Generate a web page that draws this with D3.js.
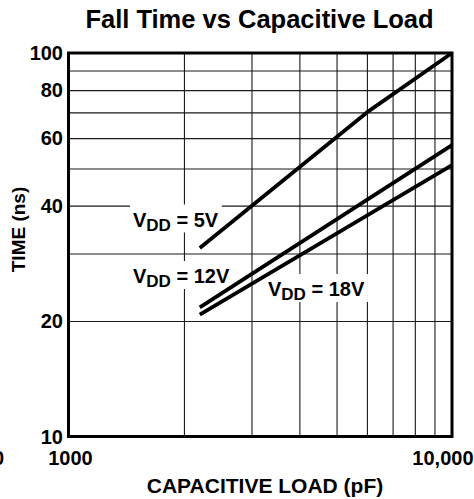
<!DOCTYPE html>
<html>
<head>
<meta charset="utf-8">
<script src="https://cdn.jsdelivr.net/npm/d3@7/dist/d3.min.js"></script>
<style>
  html, body { margin: 0; padding: 0; background: #fff; }
  svg { display: block; }
  text { font-family: "Liberation Sans", Arial, Helvetica, sans-serif; font-weight: bold; fill: #000; }
</style>
</head>
<body>
<svg id="chart" width="474" height="499"></svg>
<script>
// ---- data ----
const xDomain = [1000, 10000];
const yDomain = [10, 100];
const xGrid = [2000, 3000, 4000, 5000, 6000, 7000, 8000, 9000];
const yGrid = [20, 30, 40, 50, 60, 70, 80, 90];
const yTickValues = [10, 20, 40, 60, 80, 100];
const yTickLabels = ["10", "20", "40", "60", "80", "100"];
const xTickValues = [1000, 10000];
const xTickLabels = ["1000", "10,000"];

const load5V = [2200, 6000, 10000];
const time5V = [31, 70, 100];
const load12V = [2200, 10000];
const time12V = [21.7, 57.5];
const load18V = [2200, 10000];
const time18V = [20.8, 51];

const seriesNames = ["5V", "12V", "18V"];

// ---- layout ----
const svg = d3.select("#chart");
const L = 68.5, R = 452, T = 53, B = 436.5;

const x = d3.scaleLog().domain(xDomain).range([L, R]);
const y = d3.scaleLog().domain(yDomain).range([B, T]);

// gridlines
svg.append("g")
  .attr("transform", `translate(0,${B})`)
  .call(d3.axisBottom(x).tickValues(xGrid).tickSize(-(B - T)).tickFormat(""))
  .call(g => g.select(".domain").remove())
  .call(g => g.selectAll("line").attr("stroke", "#1a1a1a").attr("stroke-width", 1.1));

svg.append("g")
  .attr("transform", `translate(${L},0)`)
  .call(d3.axisLeft(y).tickValues(yGrid).tickSize(-(R - L)).tickFormat(""))
  .call(g => g.select(".domain").remove())
  .call(g => g.selectAll("line").attr("stroke", "#1a1a1a").attr("stroke-width", 1.1));

// frame
svg.append("rect")
  .attr("x", L).attr("y", T)
  .attr("width", R - L).attr("height", B - T)
  .attr("fill", "none").attr("stroke", "#000").attr("stroke-width", 3);

// label boxes + labels
const labelPos = [
  { x: 133, y: 226.5 },
  { x: 133, y: 283 },
  { x: 268, y: 296 }
];
const labelLayer = svg.append("g");
const lineLayer = svg.append("g");
const textLayer = svg.append("g");

seriesNames.forEach((name, i) => {
  const p = labelPos[i];
  const t = textLayer.append("text")
    .attr("x", p.x).attr("y", p.y)
    .style("font-size", "20px");
  t.append("tspan").text("V");
  t.append("tspan").attr("dy", 4).style("font-size", "17px").text("DD");
  t.append("tspan").attr("dy", -4).text(" = " + name);
  const bb = t.node().getBBox();
  labelLayer.append("rect")
    .attr("x", bb.x - 3).attr("y", bb.y - 4)
    .attr("width", bb.width + 6).attr("height", bb.height + 2)
    .attr("fill", "#fff");
});

// data lines
const line = d3.line().x(d => x(d[0])).y(d => y(d[1]));
const series = [
  d3.zip(load5V, time5V),
  d3.zip(load12V, time12V),
  d3.zip(load18V, time18V)
];
series.forEach(s => {
  lineLayer.append("path")
    .attr("d", line(s))
    .attr("fill", "none")
    .attr("stroke", "#000")
    .attr("stroke-width", 3.8)
    .attr("stroke-linejoin", "round");
});

// y tick labels
svg.append("g")
  .attr("transform", `translate(${L},0)`)
  .call(d3.axisLeft(y).tickValues(yTickValues).tickSize(0).tickPadding(5.5)
    .tickFormat((d, i) => yTickLabels[i]))
  .call(g => g.select(".domain").remove())
  .call(g => g.selectAll("text").attr("dy", "0.34em")
    .style("font-size", "20px").style("font-family", "'Liberation Sans', Arial, sans-serif")
    .style("font-weight", "bold").attr("fill", "#000"));

// x tick labels
svg.append("g")
  .attr("transform", `translate(0,${B})`)
  .call(d3.axisBottom(x).tickValues(xTickValues).tickSize(0).tickPadding(14)
    .tickFormat((d, i) => xTickLabels[i]))
  .call(g => g.select(".domain").remove())
  .call(g => g.selectAll("text")
    .style("font-size", "20px").style("font-family", "'Liberation Sans', Arial, sans-serif")
    .style("font-weight", "bold").attr("fill", "#000"))
  .call(g => g.selectAll("text").filter((d, i) => i === 0).attr("x", 1.5))
  .call(g => g.selectAll("text").filter((d, i) => i === 1).attr("text-anchor", "end").attr("x", 21));

// cut-off label at left edge
svg.append("text").attr("x", 4).attr("y", 465).attr("text-anchor", "end")
  .style("font-size", "20px").text("0");

// title
svg.append("text").attr("x", 259.5).attr("y", 28.3).attr("text-anchor", "middle")
  .style("font-size", "25.5px").text("Fall Time vs Capacitive Load");

// axis titles
svg.append("text").attr("x", 265).attr("y", 492.5).attr("text-anchor", "middle")
  .style("font-size", "21px").text("CAPACITIVE LOAD (pF)");

svg.append("text")
  .attr("transform", "translate(25,229.5) rotate(-90)")
  .attr("text-anchor", "middle")
  .style("font-size", "19px").text("TIME (ns)");
</script>
</body>
</html>
